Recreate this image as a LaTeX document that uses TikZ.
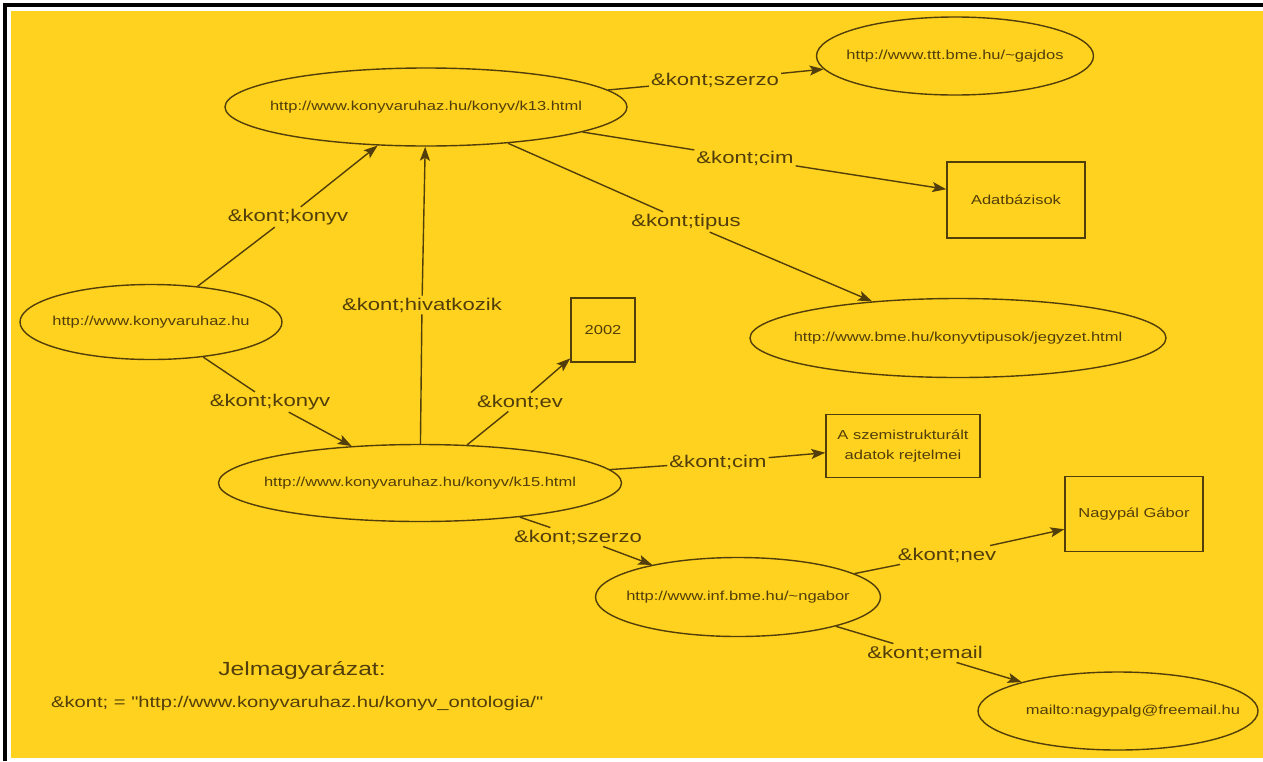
\documentclass[tikz,border=0pt]{standalone}
\usepackage{fontspec}
\setmainfont{Liberation Sans}
\newfontfamily\nodefont[FakeStretch=1.27]{Liberation Sans}
\newfontfamily\labfont[FakeStretch=1.3]{Liberation Sans}
\newfontfamily\legfont[FakeStretch=1.3]{Liberation Sans}
\usetikzlibrary{shapes.geometric,arrows.meta}
\definecolor{bgyellow}{RGB}{254,210,30}
\definecolor{ink}{RGB}{82,62,10}
\newcommand{\zw}[1]{\makebox[0pt][c]{#1}}
\begin{document}
\begin{tikzpicture}[x=1pt,y=-1pt,
  ell/.style={draw=ink, line width=1.4pt, ellipse, inner sep=0pt, text=ink,
    font=\nodefont\fontsize{13}{15}\selectfont},
  box/.style={draw=ink, line width=1.4pt, rectangle, inner sep=0pt, text=ink,
    align=center, font=\nodefont\fontsize{13}{20}\selectfont},
  lab/.style={text=ink, inner sep=2pt, font=\labfont\fontsize{17}{20}\selectfont},
  legtitle/.style={text=ink, inner sep=0pt, font=\legfont\fontsize{19}{22}\selectfont},
  legline/.style={text=ink, inner sep=0pt, font=\legfont\fontsize{15.5}{18}\selectfont},
  conn/.style={draw=ink, line width=1.4pt},
  arr/.style={conn, -{Stealth[length=14pt,width=10pt,inset=3pt]}}
]
\useasboundingbox (0,0) rectangle (1263,761);
% frame
\fill[white] (0,0) rectangle (1263,761);
\fill[black] (3,3) rectangle (1263,7);
\fill[black] (3,3) rectangle (7,761);
\fill[bgyellow] (11,11) rectangle (1263,758);

% resource and literal nodes
\node[ell, minimum width=402pt, minimum height=78pt] (k13) at (426,107) {\zw{http://www.konyvaruhaz.hu/konyv/k13.html}};
\node[ell, minimum width=277pt, minimum height=78pt] (gaj) at (955,56) {\zw{http://www.ttt.bme.hu/\textasciitilde gajdos}};
\node[box, minimum width=138pt, minimum height=76pt] (adat) at (1016,200) {Adatbázisok};
\node[ell, minimum width=416pt, minimum height=79pt] (jegy) at (958,338) {\zw{http://www.bme.hu/konyvtipusok/jegyzet.html}};
\node[ell, minimum width=262pt, minimum height=75pt] (home) at (151,322) {\zw{http://www.konyvaruhaz.hu}};
\node[box, minimum width=64pt, minimum height=64pt] (ev2002) at (603,330) {2002};
\node[ell, minimum width=403pt, minimum height=77pt] (k15) at (420,483) {\zw{http://www.konyvaruhaz.hu/konyv/k15.html}};
\node[box, minimum width=154pt, minimum height=63pt] (szemi) at (903,446) {A szemistrukturált\\adatok rejtelmei};
\node[box, minimum width=138pt, minimum height=75pt] (nagy) at (1134,514) {Nagypál Gábor};
\node[ell, minimum width=285pt, minimum height=79pt] (ngab) at (738,597) {\zw{http://www.inf.bme.hu/\textasciitilde ngabor}};
\node[ell, minimum width=280pt, minimum height=78pt] (mail) at (1118,711) {\zw{\hspace*{30pt}mailto:nagypalg@freemail.hu}};

% edge labels
\node[lab] (ls1) at (715,80) {\&kont;szerzo};
\node[lab] (lc1) at (745,158) {\&kont;cim};
\node[lab] (lt) at (686,222) {\&kont;tipus};
\node[lab] (lk1) at (288,217) {\&kont;konyv};
\node[lab] (lh) at (422,305) {\&kont;hivatkozik};
\node[lab] (lk2) at (270,402) {\&kont;konyv};
\node[lab] (le) at (520,402) {\&kont;ev};
\node[lab] (lc2) at (718,462) {\&kont;cim};
\node[lab] (ls2) at (578,537) {\&kont;szerzo};
\node[lab] (ln) at (947,555) {\&kont;nev};
\node[lab] (lm) at (925,653) {\&kont;email};

% connectors
\draw[conn] (k13) -- (ls1);  \draw[arr] (ls1) -- (gaj);
\draw[conn] (k13) -- (lc1);  \draw[arr] (lc1) -- (adat);
\draw[conn] (k13) -- (lt);   \draw[arr] (lt) -- (jegy);
\draw[conn] (home) -- (lk1); \draw[arr] (lk1) -- (k13);
\draw[conn] (k15) -- (lh);   \draw[arr] (lh) -- (k13);
\draw[conn] (home) -- (lk2); \draw[arr] (lk2) -- (k15);
\draw[conn] (k15) -- (le);   \draw[arr] (le) -- (ev2002);
\draw[conn] (k15) -- (lc2);  \draw[arr] (lc2) -- (szemi);
\draw[conn] (k15) -- (ls2);  \draw[arr] (ls2) -- (ngab);
\draw[conn] (ngab) -- (ln);  \draw[arr] (ln) -- (nagy);
\draw[conn] (ngab) -- (lm);  \draw[arr] (lm) -- (mail);

% legend
\node[legtitle] (legt) at (302,670) {Jelmagyarázat:};
\node[legline, anchor=west] (legl) at (51,703) {\&kont; = "http://www.konyvaruhaz.hu/konyv\_ontologia/"};
\end{tikzpicture}
\end{document}
